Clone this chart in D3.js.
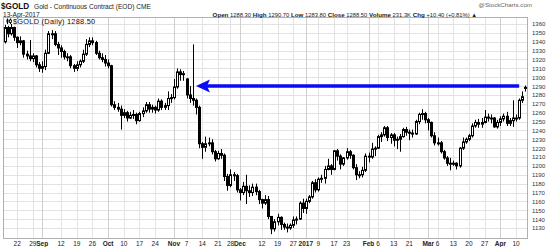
<!DOCTYPE html>
<html><head><meta charset="utf-8">
<script src="https://cdn.jsdelivr.net/npm/d3@7"></script>
<style>
html,body{margin:0;padding:0;background:#fff;}
svg{display:block;font-family:"Liberation Sans",Arial,sans-serif;}
</style></head>
<body>
<svg id="c" width="550" height="247"></svg>
<script>
// ---------- DATA ----------
const startDate = "2016-08-16", endDate = "2017-04-13";
const holidays = ["2016-09-05","2016-11-24","2016-12-26","2017-01-02","2017-01-16","2017-02-20"];
const opens = [1340,1356,1349,1356,1345,1339,1341,1326,1324,1321,1324,1314,1310,1312,1327,1349,1349,1337,1333,1329,1323,1323,1313,1310,1314,1318,1326,1337,1341,1339,1327,1322,1320,1316,1313,1269,1266,1264,1257,1260,1254,1257,1258,1251,1259,1262,1269,1264,1266,1263,1273,1266,1268,1276,1277,1289,1306,1303,1298,1280,1276,1274,1266,1225,1221,1225,1226,1216,1208,1214,1212,1188,1178,1190,1189,1173,1170,1177,1172,1170,1176,1171,1162,1158,1162,1143,1129,1137,1142,1134,1131,1130,1133,1139,1140,1158,1152,1160,1165,1181,1173,1185,1186,1196,1200,1196,1217,1211,1202,1209,1216,1212,1198,1190,1190,1195,1211,1210,1219,1220,1233,1235,1243,1232,1235,1229,1230,1233,1241,1238,1237,1236,1250,1258,1259,1252,1249,1234,1226,1226,1216,1209,1203,1203,1203,1200,1220,1227,1230,1234,1245,1249,1247,1249,1255,1254,1254,1244,1249,1253,1256,1248,1251,1254,1254,1274,1288.3];
const highs = [1359,1358,1360,1357,1346,1346,1342,1330,1342,1327,1325,1317,1318,1331,1352,1353,1352,1340,1336,1331,1327,1325,1315,1318,1320,1331,1343,1345,1345,1341,1330,1327,1325,1320,1314,1273,1271,1268,1264,1262,1261,1263,1260,1261,1266,1272,1272,1269,1268,1276,1275,1271,1284,1281,1298,1310,1309,1307,1299,1290,1337,1276,1268,1227,1233,1232,1230,1218,1217,1219,1214,1191,1196,1193,1191,1175,1182,1190,1178,1180,1180,1173,1163,1167,1166,1143,1140,1146,1143,1136,1135,1135,1143,1143,1160,1163,1163,1167,1183,1185,1187,1190,1200,1208,1202,1218,1219,1213,1210,1220,1218,1213,1202,1194,1199,1214,1215,1226,1222,1235,1238,1245,1245,1237,1237,1233,1236,1243,1244,1241,1241,1252,1260,1264,1261,1254,1250,1238,1232,1228,1218,1211,1209,1206,1204,1221,1232,1232,1236,1248,1252,1253,1254,1263,1259,1258,1255,1252,1256,1259,1261,1254,1274,1258,1276,1284,1290.7];
const lows = [1338,1345,1347,1341,1333,1336,1322,1320,1318,1317,1311,1306,1305,1308,1326,1343,1335,1325,1322,1320,1318,1310,1306,1307,1311,1316,1324,1334,1336,1325,1320,1317,1312,1310,1267,1263,1261,1241,1254,1250,1253,1253,1247,1250,1255,1260,1260,1260,1259,1261,1263,1263,1263,1271,1275,1287,1296,1296,1276,1271,1268,1258,1220,1208,1216,1222,1213,1205,1207,1208,1183,1172,1176,1183,1170,1161,1167,1157,1165,1166,1167,1157,1152,1156,1140,1123,1126,1133,1128,1128,1125,1128,1130,1134,1139,1147,1146,1158,1163,1170,1171,1181,1180,1195,1190,1195,1206,1196,1200,1207,1208,1196,1184,1186,1187,1193,1204,1208,1211,1219,1227,1233,1228,1225,1222,1219,1216,1232,1234,1229,1232,1235,1247,1252,1248,1240,1232,1223,1223,1214,1207,1200,1195,1200,1196,1198,1218,1225,1228,1232,1243,1243,1243,1248,1250,1248,1243,1242,1245,1250,1245,1245,1244,1250,1252,1271,1283.8];
const closes = [1356,1349,1356,1345,1339,1341,1326,1324,1321,1324,1314,1310,1312,1327,1349,1349,1337,1333,1329,1323,1323,1313,1310,1314,1318,1326,1337,1341,1339,1327,1322,1320,1316,1313,1269,1266,1264,1257,1260,1254,1257,1258,1251,1259,1262,1269,1264,1266,1263,1273,1266,1268,1276,1277,1289,1306,1303,1304,1280,1276,1274,1266,1225,1221,1225,1226,1216,1208,1214,1212,1188,1178,1190,1189,1173,1170,1177,1172,1170,1176,1171,1162,1158,1162,1143,1129,1137,1142,1134,1131,1130,1133,1139,1140,1158,1152,1160,1165,1181,1173,1185,1186,1196,1200,1196,1217,1211,1202,1209,1216,1212,1198,1190,1190,1195,1211,1210,1219,1220,1233,1235,1243,1232,1235,1229,1230,1233,1241,1238,1237,1236,1250,1258,1259,1252,1249,1234,1226,1226,1216,1209,1203,1203,1203,1200,1220,1227,1230,1234,1245,1249,1247,1249,1255,1254,1254,1244,1249,1253,1256,1248,1251,1254,1254,1274,1278,1288.5];
const tickDates = ["2016-08-22","2016-08-29","2016-09-01","2016-09-12","2016-09-19","2016-09-26","2016-10-03","2016-10-10","2016-10-17","2016-10-24","2016-11-01","2016-11-07","2016-11-14","2016-11-21","2016-11-28","2016-12-01","2016-12-12","2016-12-19","2016-12-27","2017-01-03","2017-01-09","2017-01-17","2017-01-23","2017-02-01","2017-02-06","2017-02-13","2017-02-21","2017-03-01","2017-03-06","2017-03-13","2017-03-20","2017-03-27","2017-04-03","2017-04-10"];
const tickLabels = ["22","29","Sep","12","19","26","Oct","10","17","24","Nov","7","14","21","28","Dec","12","19","27","2017","9","17","23","Feb","6","13","21","Mar","6","13","20","27","Apr","10"];
const monthTicks = ["Sep","Oct","Nov","Dec","2017","Feb","Mar","Apr"];
const yTicks = [1130,1140,1150,1160,1170,1180,1190,1200,1210,1220,1230,1240,1250,1260,1270,1280,1290,1300,1310,1320,1330,1340,1350,1360];
const arrowLevel = 1290, arrowFrom = "2016-11-10", arrowTo = "2017-04-11";
const headerSymbol = "$GOLD", headerName = "Gold - Continuous Contract (EOD) CME", headerDate = "13-Apr-2017";
const quote = [["Open","1288.30"],["High","1290.70"],["Low","1283.80"],["Close","1288.50"],["Volume","231.3K"],["Chg","+10.40 (+0.81%) \u25B2"]];

// ---------- trading-day categories ----------
const fmt = d3.utcFormat("%Y-%m-%d");
const dates = d3.utcDays(new Date(startDate+"T00:00:00Z"), d3.utcDay.offset(new Date(endDate+"T00:00:00Z"),1))
  .filter(d => d.getUTCDay()!==0 && d.getUTCDay()!==6 && !holidays.includes(fmt(d))).map(fmt);
const data = dates.map((d,i)=>({date:d,o:opens[i],h:highs[i],l:lows[i],c:closes[i]}));

// ---------- layout ----------
const L=3, R=527, T=17, B=238;
const svg = d3.select("#c");
const x = d3.scaleBand().domain(dates).range([L,R]).padding(0);
const cx = d => x(d) + x.bandwidth()/2;
const y = d3.scaleLinear().domain([1118.7,1367.9]).range([B,T]);

// grid
const g = svg.append("g");
g.selectAll(".hg").data(yTicks).join("line")
  .attr("x1",L).attr("x2",R).attr("y1",d=>Math.round(y(d))+0.5).attr("y2",d=>Math.round(y(d))+0.5)
  .attr("stroke","#e3e3e3").attr("stroke-width",1);
g.selectAll(".vg").data(tickDates).join("line")
  .attr("x1",d=>Math.round(cx(d))+0.5).attr("x2",d=>Math.round(cx(d))+0.5).attr("y1",T).attr("y2",B)
  .attr("stroke",(d,i)=>monthTicks.includes(tickLabels[i])?"#d0d0d0":"#e3e3e3").attr("stroke-width",1);
g.append("rect").attr("x",L+0.5).attr("y",T+0.5).attr("width",R-L).attr("height",B-T)
  .attr("fill","none").attr("stroke","#b0b0b0");

// y axis labels (right)
const yAxis = d3.axisRight(y).tickValues(yTicks).tickSize(0).tickPadding(5).tickFormat(d3.format("d"));
const ya = svg.append("g").attr("transform",`translate(${R},0)`).call(yAxis);
ya.select(".domain").remove();
ya.selectAll("text").attr("font-size","6px").attr("fill","#333").attr("font-family","Liberation Sans, Arial, sans-serif");

// x axis labels (bottom)
const xAxis = d3.axisBottom(x).tickValues(tickDates).tickSize(0).tickPadding(3)
  .tickFormat((d,i)=>tickLabels[i]);
const xa = svg.append("g").attr("transform",`translate(0,${B})`).call(xAxis);
xa.select(".domain").remove();
xa.selectAll("text").attr("font-size","6.5px").attr("fill","#222").attr("font-family","Liberation Sans, Arial, sans-serif")
  .attr("font-weight",(d,i)=>monthTicks.includes(tickLabels[i])?"bold":"normal");

// candles
const cg = svg.append("g");
cg.selectAll(".wick").data(data).join("line")
  .attr("x1",d=>Math.round(cx(d.date))+0.5).attr("x2",d=>Math.round(cx(d.date))+0.5)
  .attr("y1",d=>y(d.h)).attr("y2",d=>y(d.l)).attr("stroke","#000").attr("stroke-width",1);
cg.selectAll(".body").data(data).join("rect")
  .attr("x",d=>Math.round(cx(d.date))-0.5)
  .attr("y",d=>y(Math.max(d.o,d.c)))
  .attr("width",2)
  .attr("height",d=>Math.max(1,Math.abs(y(d.o)-y(d.c))))
  .attr("fill",d=>d.c>=d.o?"#fff":"#000").attr("stroke","#000").attr("stroke-width",1);

// arrow
const ay = y(arrowLevel), ax0 = cx(arrowFrom), ax1 = cx(arrowTo);
svg.append("line").attr("x1",ax0+10).attr("x2",ax1).attr("y1",ay).attr("y2",ay)
  .attr("stroke","#0a0af5").attr("stroke-width",3.5);
svg.append("path").attr("d",`M${ax0},${ay} L${ax0+14},${ay-6.5} L${ax0+11},${ay} L${ax0+14},${ay+6.5} Z`)
  .attr("fill","#0a0af5");

// legend inside plot
const lg = svg.append("g");
lg.append("line").attr("x1",7.5).attr("x2",7.5).attr("y1",18.5).attr("y2",24).attr("stroke","#000");
lg.append("rect").attr("x",6.5).attr("y",19.5).attr("width",2).attr("height",3).attr("fill","#000");
lg.append("line").attr("x1",10.5).attr("x2",10.5).attr("y1",18.5).attr("y2",24).attr("stroke","#000");
lg.append("rect").attr("x",9.5).attr("y",20).attr("width",2).attr("height",2.5).attr("fill","#fff").attr("stroke","#000").attr("stroke-width",0.8);
lg.append("text").attr("x",13).attr("y",24).attr("font-size","7.4px").attr("letter-spacing","0.25px").attr("fill","#111")
  .text(`${headerSymbol} (Daily) ${closes[closes.length-1].toFixed(2)}`);

// header
svg.append("text").attr("x",1).attr("y",9).attr("font-size","8.2px").attr("font-weight","bold").attr("fill","#111").text(headerSymbol);
svg.append("text").attr("x",34).attr("y",8.5).attr("font-size","6.6px").attr("fill","#222").text(headerName);
svg.append("text").attr("x",3).attr("y",17).attr("font-size","6.6px").attr("fill","#222").text(headerDate);
svg.append("text").attr("x",532).attr("y",7).attr("text-anchor","end").attr("font-size","6.2px").attr("fill","#666").text("@StockCharts.com");
const qt = svg.append("text").attr("x",477).attr("y",16.5).attr("text-anchor","end").attr("font-size","5.8px").attr("fill","#222");
quote.forEach(([k,v],i)=>{
  qt.append("tspan").attr("font-weight","bold").attr("font-size","6.2px").text((i?" ":"")+k+" ");
  qt.append("tspan").text(v);
});
</script>
</body></html>
